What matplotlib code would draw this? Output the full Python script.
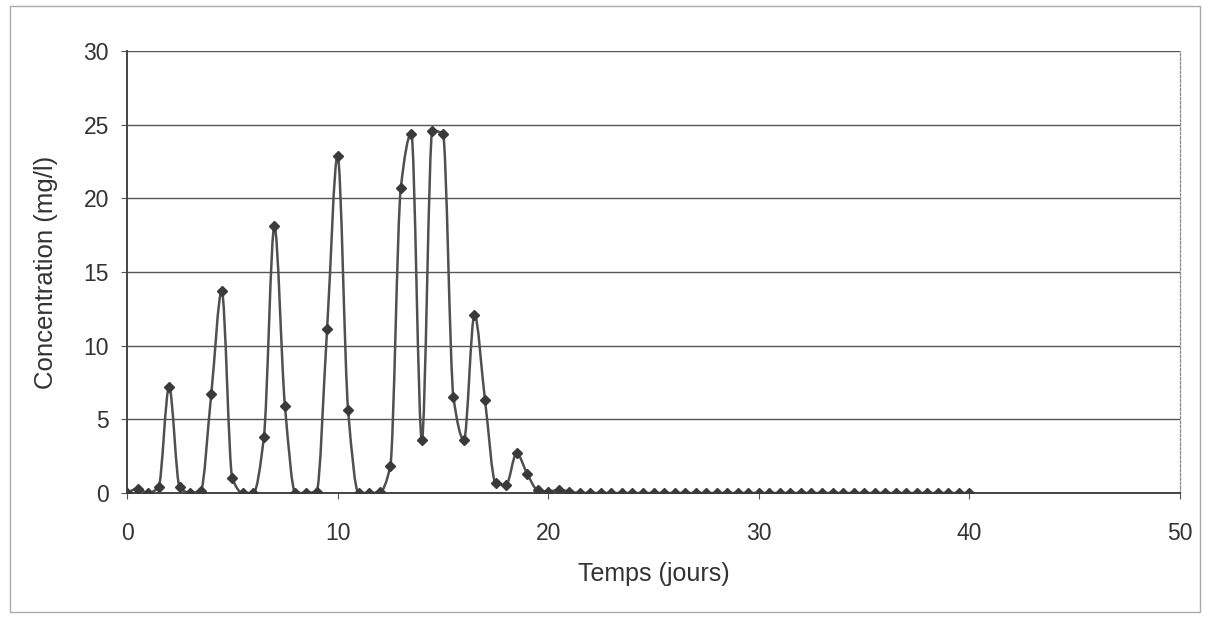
import matplotlib
matplotlib.use("Agg")
import matplotlib.pyplot as plt
import numpy as np
from matplotlib.path import Path
from matplotlib.patches import PathPatch, Rectangle

# Time (days), 0.5-day sampling
temps = [i * 0.5 for i in range(81)]
concentration = [
    0.0, 0.3, 0.0, 0.4, 7.2, 0.4, 0.0, 0.15, 6.7, 13.7,
    1.0, 0.0, 0.0, 3.8, 18.1, 5.9, 0.0, 0.0, 0.1, 11.1,
    22.9, 5.6, 0.0, 0.0, 0.05, 1.8, 20.7, 24.4, 3.6, 24.6,
    24.4, 6.5, 3.6, 12.1, 6.3, 0.7, 0.55, 2.7, 1.3, 0.2,
    0.1, 0.2, 0.1, 0.0, 0.0, 0.0, 0.0, 0.0, 0.0, 0.0,
    0.0, 0.0, 0.0, 0.0, 0.0, 0.0, 0.0, 0.0, 0.0, 0.0,
    0.0, 0.0, 0.0, 0.0, 0.0, 0.0, 0.0, 0.0, 0.0, 0.0,
    0.0, 0.0, 0.0, 0.0, 0.0, 0.0, 0.0, 0.0, 0.0, 0.0,
    0.0,
]
x_ticks = [0, 10, 20, 30, 40, 50]
y_ticks = [0, 5, 10, 15, 20, 25, 30]

plt.rcParams['font.family'] = ['Liberation Sans', 'DejaVu Sans']

fig = plt.figure(figsize=(12.13, 6.18), dpi=100)
ax = fig.add_axes([127 / 1213, 1 - 493 / 618, (1180 - 127) / 1213, (493 - 51) / 618])

# smoothed line through the data points (monotone cubic Bezier, no overshoot)
x = np.array(temps, dtype=float)
y = np.array(concentration, dtype=float)
n = len(x)
h = np.diff(x)
d = np.diff(y) / h
m = np.zeros(n)
m[0] = d[0]
m[-1] = d[-1]
for k in range(1, n - 1):
    if d[k - 1] * d[k] <= 0:
        m[k] = 0.0
    else:
        m[k] = 2.0 / (1.0 / d[k - 1] + 1.0 / d[k])
verts = [(x[0], y[0])]
codes = [Path.MOVETO]
for i in range(n - 1):
    c1 = (x[i] + h[i] / 3.0, y[i] + m[i] * h[i] / 3.0)
    c2 = (x[i + 1] - h[i] / 3.0, y[i + 1] - m[i + 1] * h[i] / 3.0)
    verts += [c1, c2, (x[i + 1], y[i + 1])]
    codes += [Path.CURVE4] * 3
patch = PathPatch(Path(verts, codes), facecolor='none', edgecolor='#505050',
                  linewidth=1.8, zorder=3)
ax.add_patch(patch)
ax.plot(temps, concentration, linestyle='none', marker='D', markersize=5,
        color='#3a3a3a', zorder=4)

ax.set_xlim(0, 50)
ax.set_ylim(0, 30)
ax.set_xticks(x_ticks)
ax.set_yticks(y_ticks)
ax.tick_params(direction='out', length=4, color='#555555', labelsize=16.5,
               labelcolor='#333333')
ax.tick_params(axis='x', pad=17)
ax.tick_params(axis='y', pad=9)
ax.yaxis.grid(True, color='#555555', linewidth=1.0)
ax.set_axisbelow(True)
for side in ['left', 'bottom']:
    ax.spines[side].set_color('#444444')
    ax.spines[side].set_linewidth(1.4)
ax.spines['top'].set_visible(False)
ax.spines['right'].set_color('#888888')
ax.spines['right'].set_linestyle((0, (2, 1.5)))
ax.spines['right'].set_linewidth(0.9)

ax.set_xlabel('Temps (jours)', fontsize=18, color='#333333', labelpad=12)
ax.set_ylabel('Concentration (mg/l)', fontsize=18.5, color='#333333', labelpad=18)

fig.patches.append(Rectangle((10 / 1213, 6 / 618), 1190 / 1213, 606 / 618,
                             transform=fig.transFigure, fill=False,
                             edgecolor='#aaaaaa', linewidth=1.0))

fig.savefig('out.png', dpi=100)
